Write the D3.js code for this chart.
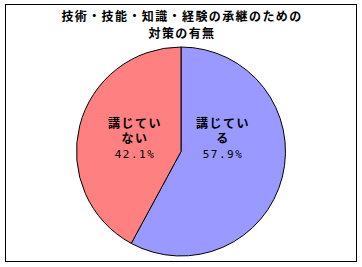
<!DOCTYPE html>
<html>
<head>
<meta charset="utf-8">
<script src="https://cdn.jsdelivr.net/npm/d3@7"></script>
<style>
  body { margin: 0; background: #fff; }
  text { font-family: "Noto Sans CJK JP", sans-serif; }
</style>
</head>
<body>
<div id="chart"></div>
<script>
const titleLines = ["技術・技能・知識・経験の承継のための", "対策の有無"];
const categories = ["講じている", "講じていない"];
const values = [57.9, 42.1];
const labelLines = [["講じてい", "る"], ["講じてい", "ない"]];
const colors = ["#9999FF", "#FF8080"];

const width = 362, height = 267;

const svg = d3.select("#chart")
  .append("svg")
    .attr("width", width)
    .attr("height", height);

// frame
svg.append("rect")
  .attr("x", 5.5).attr("y", 4.5)
  .attr("width", 351).attr("height", 257)
  .attr("fill", "#fff")
  .attr("stroke", "#000")
  .attr("stroke-width", 1);

// title
svg.append("g").selectAll("text")
  .data(titleLines)
  .enter().append("text")
    .attr("x", 182)
    .attr("y", (d, i) => 20.5 + i * 17)
    .attr("text-anchor", "middle")
    .style("font-size", "12px")
    .style("font-weight", "bold")
    .style("letter-spacing", "1.4px")
    .text(d => d);

const cx = 181, cy = 151.5, r = 104.5;

const pie = d3.pie().sort(null).value(d => d);
const arcs = pie(values);
const arc = d3.arc().innerRadius(0).outerRadius(r);

const g = svg.append("g").attr("transform", `translate(${cx},${cy})`);

g.selectAll("path")
  .data(arcs)
  .enter().append("path")
    .attr("d", arc)
    .attr("fill", (d, i) => colors[i])
    .attr("stroke", "#000")
    .attr("stroke-width", 1);

// labels (offsets from pie centre)
const labelPos = [[42, -24], [-46, -24]];
const labels = g.selectAll("g.label")
  .data(arcs)
  .enter().append("g")
    .attr("class", "label")
    .attr("transform", (d, i) => `translate(${labelPos[i][0]},${labelPos[i][1]})`);

labels.each(function(d, i) {
  const sel = d3.select(this);
  labelLines[i].forEach((line, j) => {
    sel.append("text")
      .attr("x", 0)
      .attr("y", j * 15)
      .attr("text-anchor", "middle")
      .style("font-size", "12px")
      .style("font-weight", "bold")
      .style("letter-spacing", "1.5px")
      .text(line);
  });
  sel.append("text")
    .attr("x", 0)
    .attr("y", 30)
    .attr("text-anchor", "middle")
    .style("font-size", "11px")
    .style("font-family", "'DejaVu Sans Mono', monospace")
    .style("letter-spacing", "1.5px")
    .text(values[i].toFixed(1) + "%");
});
</script>
</body>
</html>
